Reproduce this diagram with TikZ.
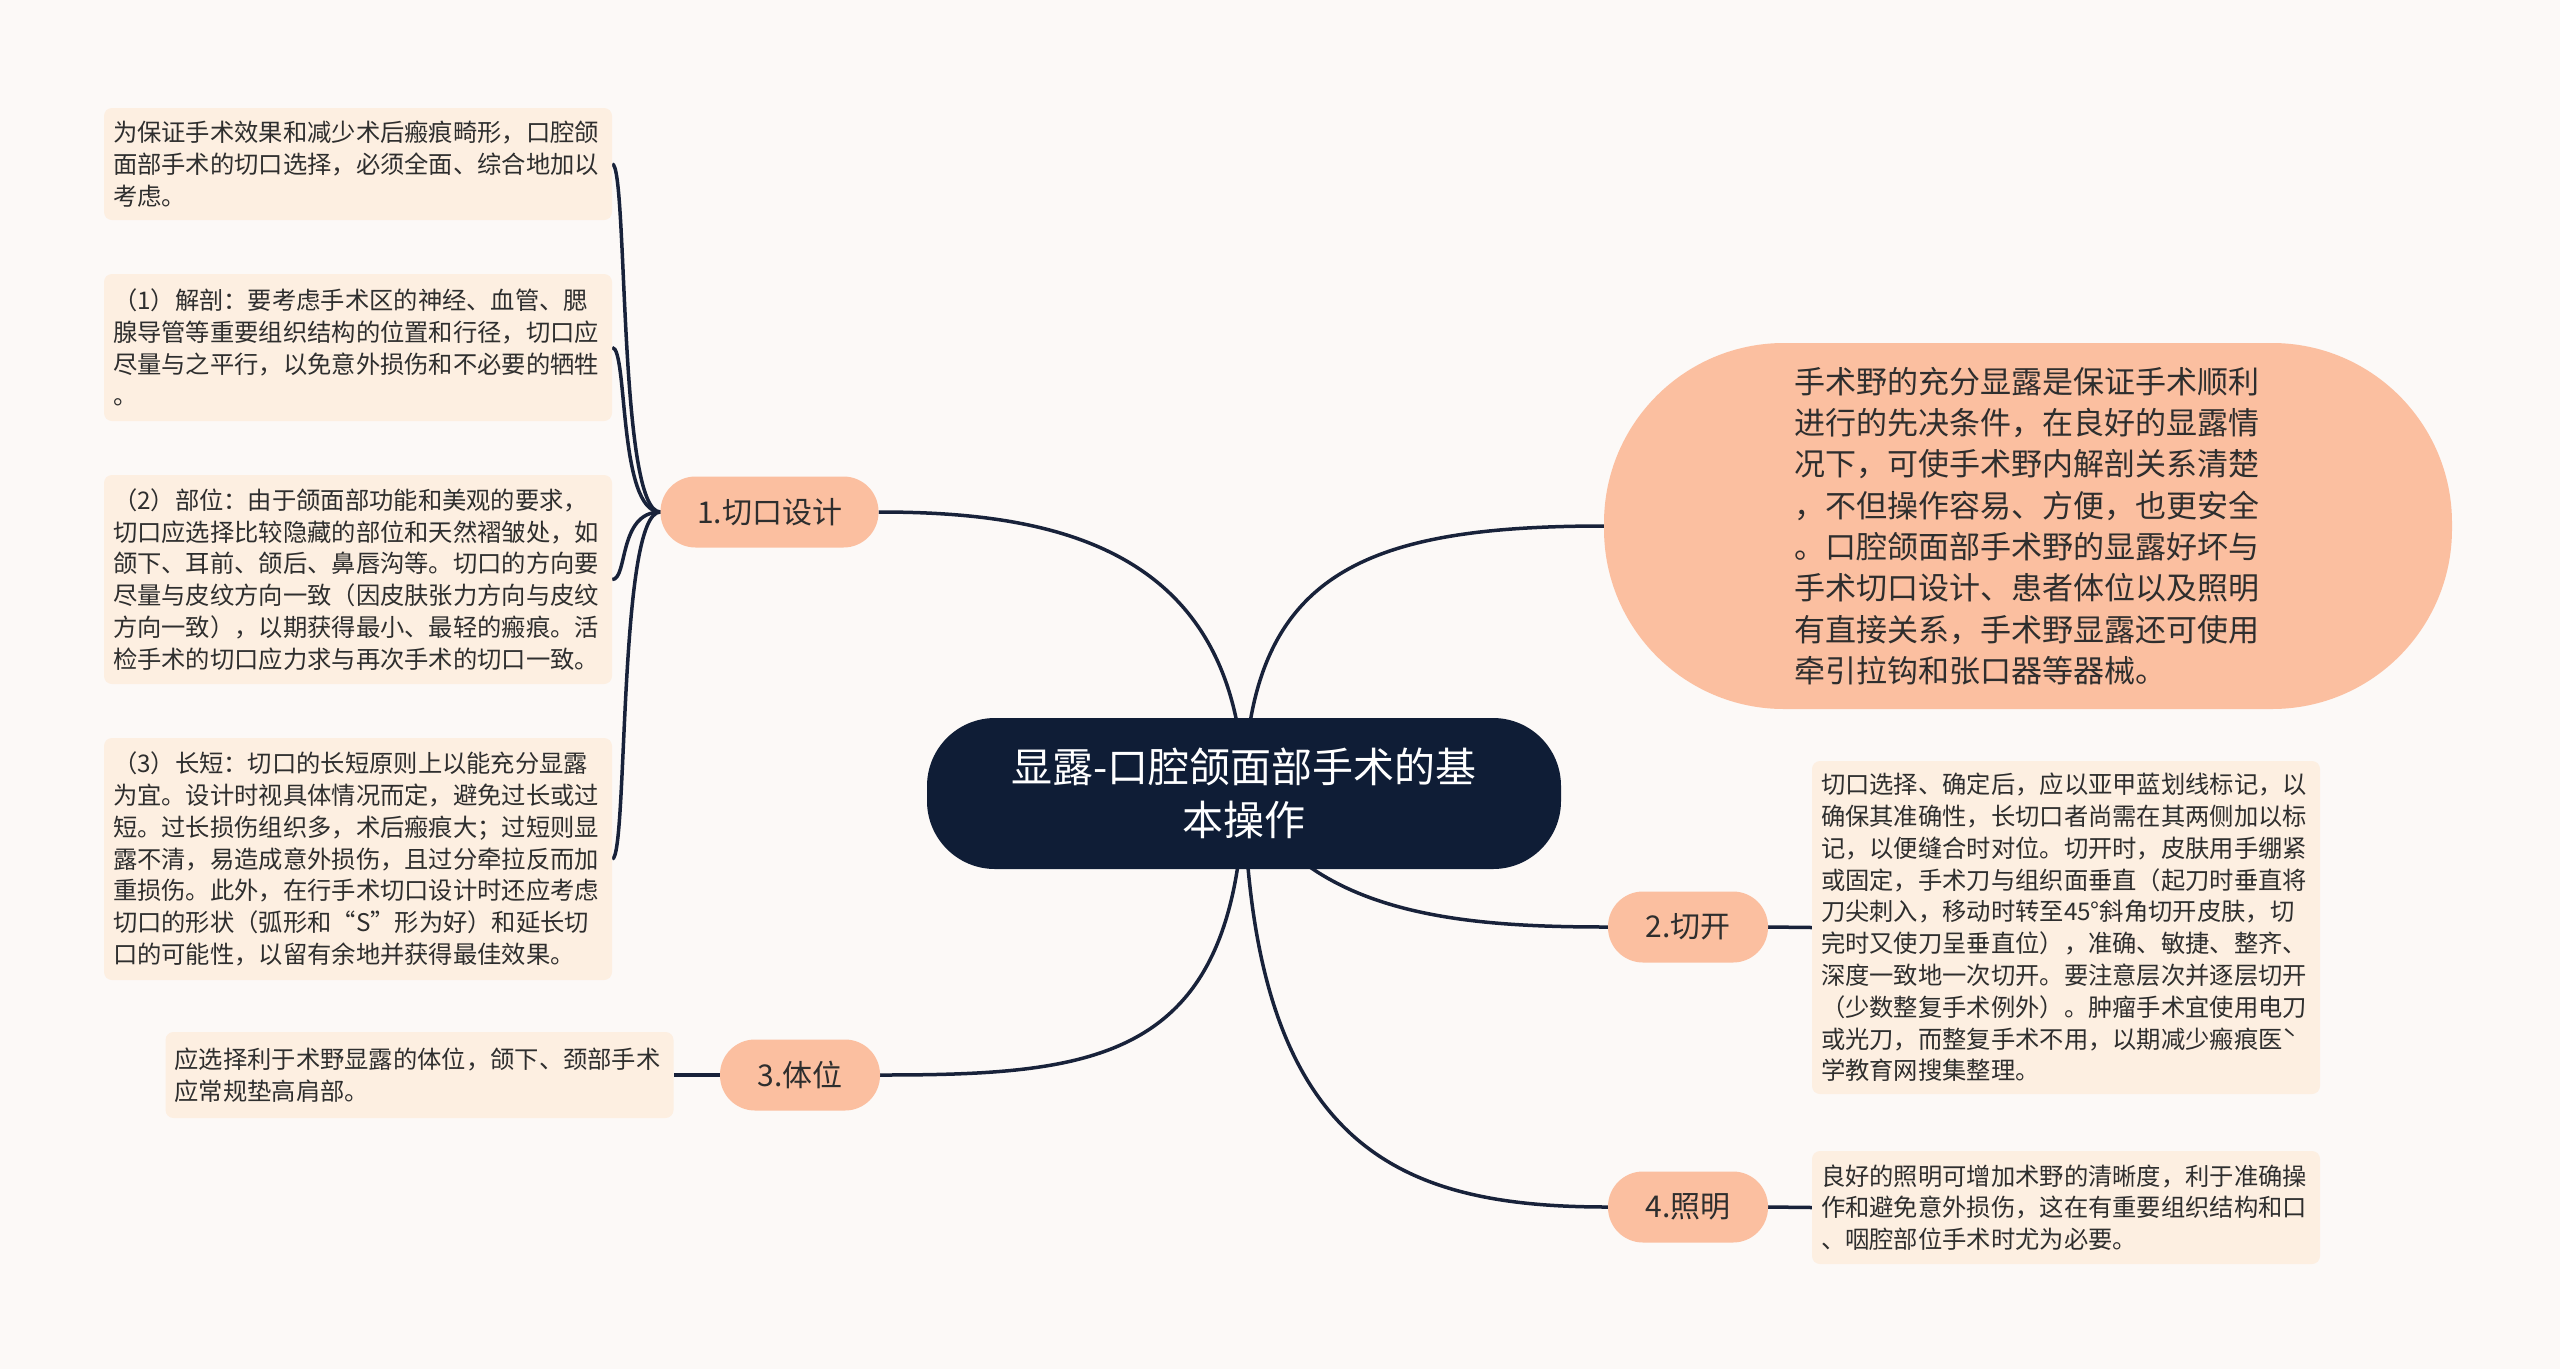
\documentclass[tikz,border=0pt]{standalone}
\usepackage{fontspec}
\setmainfont{Noto Sans CJK SC}
\usetikzlibrary{calc}
\pgfdeclarelayer{back}
\pgfdeclarelayer{bg}
\pgfsetlayers{back,bg,main}
\definecolor{bgc}{HTML}{FCF9F7}
\definecolor{navy}{HTML}{0F1D36}
\definecolor{peach}{HTML}{FBBFA0}
\definecolor{cream}{HTML}{FDEFE1}
\definecolor{ink}{HTML}{2E2E2E}
\definecolor{wire}{HTML}{18223A}
\tikzset{
  leafbox/.style={fill=cream, rounded corners=8pt, text width=490pt, align=left,
    inner xsep=9pt, inner ysep=0pt, font=\fontsize{24.3}{31.8}\selectfont, text=ink},
  pillbox/.style={fill=peach, rounded corners=35pt, font=\fontsize{30}{36}\selectfont,
    text=ink, minimum height=71pt, inner sep=0pt},
  rootbox/.style={fill=navy, rounded corners=68pt, text=white, align=center,
    font=\fontsize{41}{53}\selectfont, minimum width=634pt, minimum height=151pt, inner sep=0pt},
  bigbox/.style={fill=peach, rounded corners=180pt, minimum width=848pt, minimum height=366pt,
    text width=467pt, align=left, font=\fontsize{31}{41.3}\selectfont, text=ink, inner sep=0pt},
  wire/.style={draw=wire, line width=3.5pt}
}
\begin{document}
\begin{tikzpicture}[x=1pt,y=-1pt]
\useasboundingbox (0,0) rectangle (2560,1369);
\begin{pgfonlayer}{back}
\fill[bgc] (0,0) rectangle (2560,1369);
\end{pgfonlayer}

\node[rootbox] (root) at (1244,793.5) {显露-口腔颌面部手术的基\\本操作};

\node[bigbox] (big) at (2028,526) {手术野的充分显露是保证手术顺利\\进行的先决条件，在良好的显露情\\况下，可使手术野内解剖关系清楚\\，不但操作容易、方便，也更安全\\。口腔颌面部手术野的显露好坏与\\手术切口设计、患者体位以及照明\\有直接关系，手术野显露还可使用\\牵引拉钩和张口器等器械。};

\node[pillbox, minimum width=218pt] (b1) at (769.5,512) {1.切口设计};
\node[pillbox, minimum width=160pt] (b2) at (1688,927) {2.切开};
\node[pillbox, minimum width=160pt] (b3) at (800,1075) {3.体位};
\node[pillbox, minimum width=160pt] (b4) at (1688,1207) {4.照明};

\node[leafbox, minimum height=112pt] (l1) at (358,164) {为保证手术效果和减少术后瘢痕畸形，口腔颌\\面部手术的切口选择，必须全面、综合地加以\\考虑。};
\node[leafbox, minimum height=147pt] (l2) at (358,347.5) {（1）解剖：要考虑手术区的神经、血管、腮\\腺导管等重要组织结构的位置和行径，切口应\\尽量与之平行，以免意外损伤和不必要的牺牲\\。};
\node[leafbox, minimum height=209pt] (l3) at (358,579.5) {（2）部位：由于颌面部功能和美观的要求，\\切口应选择比较隐藏的部位和天然褶皱处，如\\颌下、耳前、颌后、鼻唇沟等。切口的方向要\\尽量与皮纹方向一致（因皮肤张力方向与皮纹\\方向一致），以期获得最小、最轻的瘢痕。活\\检手术的切口应力求与再次手术的切口一致。};
\node[leafbox, minimum height=242pt] (l4) at (358,859) {（3）长短：切口的长短原则上以能充分显露\\为宜。设计时视具体情况而定，避免过长或过\\短。过长损伤组织多，术后瘢痕大；过短则显\\露不清，易造成意外损伤，且过分牵拉反而加\\重损伤。此外，在行手术切口设计时还应考虑\\切口的形状（弧形和“S”形为好）和延长切\\口的可能性，以留有余地并获得最佳效果。};
\node[leafbox, minimum height=86pt] (l5) at (419.5,1075) {应选择利于术野显露的体位，颌下、颈部手术\\应常规垫高肩部。};
\node[leafbox, minimum height=333pt] (r1) at (2066,927.5) {切口选择、确定后，应以亚甲蓝划线标记，以\\确保其准确性，长切口者尚需在其两侧加以标\\记，以便缝合时对位。切开时，皮肤用手绷紧\\或固定，手术刀与组织面垂直（起刀时垂直将\\刀尖刺入，移动时转至45°斜角切开皮肤，切\\完时又使刀呈垂直位），准确、敏捷、整齐、\\深度一致地一次切开。要注意层次并逐层切开\\（少数整复手术例外）。肿瘤手术宜使用电刀\\或光刀，而整复手术不用，以期减少瘢痕医ˋ\\学教育网搜集整理。};
\node[leafbox, minimum height=113pt] (r2) at (2066,1207.5) {良好的照明可增加术野的清晰度，利于准确操\\作和避免意外损伤，这在有重要组织结构和口\\、咽腔部位手术时尤为必要。};

\begin{pgfonlayer}{bg}
\draw[wire] (root.center) .. controls (1240,545) and (1050,512) .. (b1.east);
\draw[wire] (root.center) .. controls (1248,575) and (1360,526) .. (big.west);
\draw[wire] (root.center) .. controls (1310,915) and (1460,927) .. (b2.west);
\draw[wire] (root.center) .. controls (1236,1060) and (1100,1075) .. (b3.east);
\draw[wire] (root.center) .. controls (1252,1150) and (1400,1207) .. (b4.west);
\draw[wire] (b1.west) .. controls (618,512) and (628,164) .. (l1.east);
\draw[wire] (b1.west) .. controls (618,512) and (628,347.5) .. (l2.east);
\draw[wire] (b1.west) .. controls (618,512) and (628,579.5) .. (l3.east);
\draw[wire] (b1.west) .. controls (618,512) and (628,859) .. (l4.east);
\draw[wire] (b3.west) -- (l5.east);
\draw[wire] (b2.east) -- (r1.west);
\draw[wire] (b4.east) -- (r2.west);
\end{pgfonlayer}
\end{tikzpicture}
\end{document}
